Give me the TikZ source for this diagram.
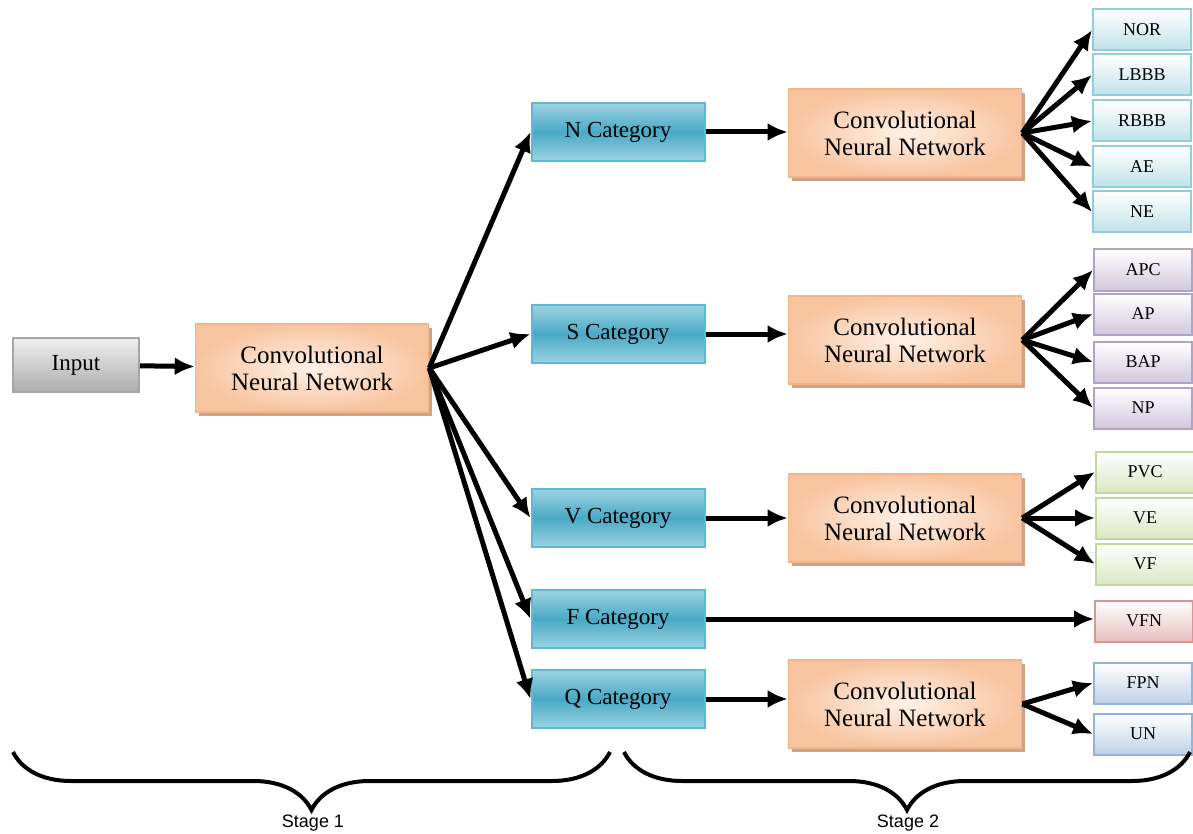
\documentclass[tikz,border=0pt]{standalone}
\usepackage{fontspec}
\setmainfont{Liberation Serif}
\setsansfont{Liberation Sans}
\usetikzlibrary{arrows.meta,decorations.pathreplacing,shadows}

\definecolor{cnnedge}{HTML}{F4B488}
\definecolor{cnnouter}{HTML}{F8C4A0}
\definecolor{cnnlight}{HTML}{FFF1E6}
\definecolor{cnnshade}{HTML}{CFA287}
\definecolor{catdark}{HTML}{48A9C5}
\definecolor{catlight}{HTML}{9DD3E2}
\definecolor{catedge}{HTML}{5DBAD3}
\definecolor{nleaf}{HTML}{92CDDC}
\definecolor{sleaf}{HTML}{B3A2C7}
\definecolor{vleaf}{HTML}{C3D69B}
\definecolor{fleaf}{HTML}{D99694}
\definecolor{qleaf}{HTML}{95B3D7}

\tikzset{
  inbox/.style={draw=gray!70, line width=1pt, top color=gray!12, bottom color=gray!65,
    minimum width=63pt, minimum height=27pt, font=\fontsize{11.5}{13.5}\selectfont},
  cnnbox/.style={draw=cnnedge, line width=0.8pt, inner color=cnnlight, outer color=cnnouter,
    minimum width=116.5pt, minimum height=44pt, align=center,
    font=\fontsize{12.5}{13.5}\selectfont,
    drop shadow={shadow xshift=1.8pt, shadow yshift=-1.8pt, fill=cnnshade, opacity=1}},
  catbox/.style={draw=catedge, line width=1pt, top color=catlight, bottom color=catlight,
    middle color=catdark, minimum width=86.5pt, minimum height=29pt,
    font=\fontsize{11.5}{13.5}\selectfont},
  leafbox/.style={draw=#1, line width=1pt, top color=white, bottom color=#1!60,
    minimum width=49pt, minimum height=20.5pt, font=\fontsize{9}{10}\selectfont},
  link/.style={line width=2.5pt, -{Latex[length=10pt,width=9pt]}},
  stagebrace/.style={line width=2pt, decorate,
    decoration={brace, mirror, amplitude=29pt, aspect=0.5}}
}

\begin{document}
\begin{tikzpicture}[x=0.5pt,y=-0.5pt]
    \useasboundingbox (0,0) rectangle (1193,834);

    % Stage 1
    \node[inbox] (input) at (76,365) {Input};
    \node[cnnbox] (cnnA) at (312,368) {Convolutional\\Neural Network};

    % Categories
    \node[catbox] (catN) at (618,132) {N Category};
    \node[catbox] (catS) at (618,334) {S Category};
    \node[catbox] (catV) at (618,518) {V Category};
    \node[catbox] (catF) at (618,619) {F Category};
    \node[catbox] (catQ) at (618,699) {Q Category};

    % Stage 2 networks
    \node[cnnbox] (cnnN) at (905,133) {Convolutional\\Neural Network};
    \node[cnnbox] (cnnS) at (905,340) {Convolutional\\Neural Network};
    \node[cnnbox] (cnnV) at (905,518) {Convolutional\\Neural Network};
    \node[cnnbox] (cnnQ) at (905,704) {Convolutional\\Neural Network};

    % Leaf classes
    \node[leafbox=nleaf] (nor)  at (1142,30)  {NOR};
    \node[leafbox=nleaf] (lbbb) at (1142,75)  {LBBB};
    \node[leafbox=nleaf] (rbbb) at (1142,121) {RBBB};
    \node[leafbox=nleaf] (ae)   at (1142,167) {AE};
    \node[leafbox=nleaf] (ne)   at (1142,212) {NE};
    \node[leafbox=sleaf] (apc)  at (1143,270) {APC};
    \node[leafbox=sleaf] (ap)   at (1143,314) {AP};
    \node[leafbox=sleaf] (bap)  at (1143,362) {BAP};
    \node[leafbox=sleaf] (np)   at (1143,408) {NP};
    \node[leafbox=vleaf] (pvc)  at (1145,472) {PVC};
    \node[leafbox=vleaf] (ve)   at (1145,518) {VE};
    \node[leafbox=vleaf] (vf)   at (1145,564) {VF};
    \node[leafbox=fleaf] (vfn)  at (1144,621) {VFN};
    \node[leafbox=qleaf] (fpn)  at (1143,683) {FPN};
    \node[leafbox=qleaf] (un)   at (1143,734) {UN};

    % Arrows
    \draw[link] (input) -- (cnnA);
    \foreach \cat in {catN,catS,catV,catF,catQ}
        \draw[link] (cnnA.east) -- (\cat.west);
    \foreach \cat/\net in {catN/cnnN,catS/cnnS,catV/cnnV,catQ/cnnQ}
        \draw[link] (\cat.east) -- (\cat.east -| \net.west);
    \draw[link] (catF.east) -- (catF.east -| vfn.west);
    \foreach \leaf in {nor,lbbb,rbbb,ae,ne}
        \draw[link] (cnnN.east) -- (\leaf.west);
    \foreach \leaf in {apc,ap,bap,np}
        \draw[link] (cnnS.east) -- (\leaf.west);
    \foreach \leaf in {pvc,ve,vf}
        \draw[link] (cnnV.east) -- (\leaf.west);
    \foreach \leaf in {fpn,un}
        \draw[link] (cnnQ.east) -- (\leaf.west);

    % Braces
    \coordinate (braceAa) at (13,752);
    \coordinate (braceAb) at (610,752);
    \coordinate (braceBa) at (624,752);
    \coordinate (braceBb) at (1190,752);
    \draw[stagebrace] (braceAa) -- (braceAb);
    \draw[stagebrace] (braceBa) -- (braceBb);
    \node[font=\sffamily\fontsize{9}{10}\selectfont] (stageA) at (313,823) {Stage 1};
    \node[font=\sffamily\fontsize{9}{10}\selectfont] (stageB) at (908,823) {Stage 2};
\end{tikzpicture}
\end{document}
